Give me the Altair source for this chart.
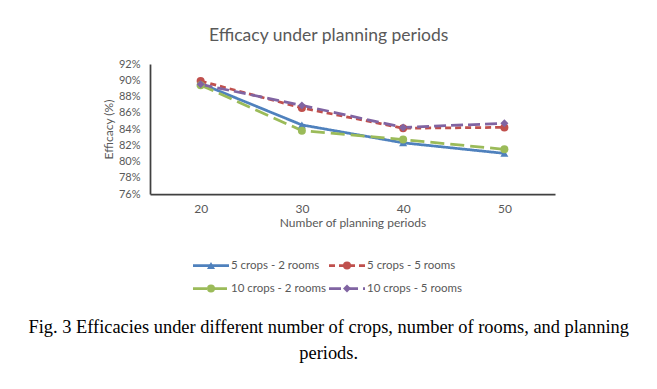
import altair as alt
import pandas as pd

periods = [20, 30, 40, 50]
series_names = ["5 crops - 2 rooms", "5 crops - 5 rooms", "10 crops - 2 rooms", "10 crops - 5 rooms"]
crops5_rooms2 = [0.896, 0.845, 0.823, 0.810]
crops5_rooms5 = [0.899, 0.866, 0.841, 0.842]
crops10_rooms2 = [0.894, 0.838, 0.827, 0.815]
crops10_rooms5 = [0.895, 0.869, 0.842, 0.847]
y_ticks = [0.76, 0.78, 0.80, 0.82, 0.84, 0.86, 0.88, 0.90, 0.92]

title_text = "Efficacy under planning periods"
x_title = "Number of  planning periods"
y_title = "Efficacy (%)"
caption = ["Fig. 3 Efficacies under different number of crops, number of rooms, and planning", "periods."]

colors = ["#4F81BD", "#C0504D", "#9BBB59", "#8064A2"]
dashes = [[1, 0], [6, 4], [14, 6], [12, 5]]
shapes = ["triangle-up", "circle", "circle", "diamond"]

rows = []
for name, vals in zip(series_names, [crops5_rooms2, crops5_rooms5, crops10_rooms2, crops10_rooms5]):
    for p, v in zip(periods, vals):
        rows.append({"period": p, "value": v, "series": name})
df = pd.DataFrame(rows)

legend_df = pd.DataFrame({
    "series": series_names,
    "col": [i % 2 for i in range(len(series_names))],
    "row": [i // 2 for i in range(len(series_names))],
})

FONT = "Lato"
GRAY = "#595959"
SW = 2.75

color_scale = alt.Scale(domain=series_names, range=colors)
dash_scale = alt.Scale(domain=series_names, range=dashes)
shape_scale = alt.Scale(domain=series_names, range=shapes)

x_enc = alt.X("period:O", title=x_title, scale=alt.Scale(type="point", padding=0.5),
              axis=alt.Axis(labelAngle=0, ticks=False, domainColor="#404040", domainWidth=1.75,
                            labelFont=FONT, labelFontSize=12, labelColor=GRAY, labelPadding=9,
                            titleFont=FONT, titleFontSize=12, titleColor=GRAY, titleFontWeight="normal",
                            titlePadding=3))
y_enc = alt.Y("value:Q", title=y_title, scale=alt.Scale(domain=[0.76, 0.92], nice=False, zero=False),
              axis=alt.Axis(values=y_ticks, format=".0%", grid=False, ticks=False, domainColor="#404040",
                            domainWidth=1.75, labelFont=FONT, labelFontSize=11, labelColor=GRAY,
                            labelPadding=10, titleFont=FONT, titleFontSize=12, titleColor=GRAY,
                            titleFontWeight="normal", titlePadding=3))

lines = alt.Chart(df).mark_line(strokeWidth=SW).encode(
    x=x_enc, y=y_enc,
    color=alt.Color("series:N", scale=color_scale, legend=None),
    strokeDash=alt.StrokeDash("series:N", scale=dash_scale, legend=None),
)
points = alt.Chart(df).mark_point(filled=True, size=64, opacity=1).encode(
    x=x_enc, y=y_enc,
    color=alt.Color("series:N", scale=color_scale, legend=None),
    shape=alt.Shape("series:N", scale=shape_scale, legend=None),
)

inner = alt.layer(lines, points).properties(
    width=405, height=130,
    title=alt.Title(title_text, font=FONT, fontSize=17.5, color=GRAY, fontWeight="normal",
                    anchor="middle", frame="bounds", offset=14),
)

lx = alt.X("col:O", scale=alt.Scale(type="point", padding=0.316), axis=None)
ly = alt.Y("row:O", scale=alt.Scale(type="point", padding=0.5), axis=None)
leg_base = alt.Chart(legend_df)
leg_lines = leg_base.mark_rule(strokeWidth=SW, x2Offset=36).encode(
    x=lx, x2=alt.X2("col"), y=ly,
    color=alt.Color("series:N", scale=color_scale, legend=None),
    strokeDash=alt.StrokeDash("series:N", scale=dash_scale, legend=None),
)
leg_points = leg_base.mark_point(filled=True, size=64, opacity=1, xOffset=18).encode(
    x=lx, y=ly,
    color=alt.Color("series:N", scale=color_scale, legend=None),
    shape=alt.Shape("series:N", scale=shape_scale, legend=None),
)
leg_text = leg_base.mark_text(align="left", baseline="middle", dx=38, font=FONT, fontSize=11.5,
                              color=GRAY).encode(x=lx, y=ly, text="series:N")
legend_chart = alt.layer(leg_lines, leg_points, leg_text).properties(width=222, height=46)

chart = alt.vconcat(inner, legend_chart, spacing=60, bounds="flush").properties(
    title=alt.Title(caption, orient="bottom", font="Liberation Serif", fontSize=18.4, color="black",
                    fontWeight="normal", anchor="middle", frame="bounds", lineHeight=26, offset=18),
    padding={"left": 20, "top": 18, "right": 5, "bottom": 5},
).configure(background="white").configure_view(stroke=None)

chart.save("out.html", embed_options={"renderer": "svg", "actions": False})
